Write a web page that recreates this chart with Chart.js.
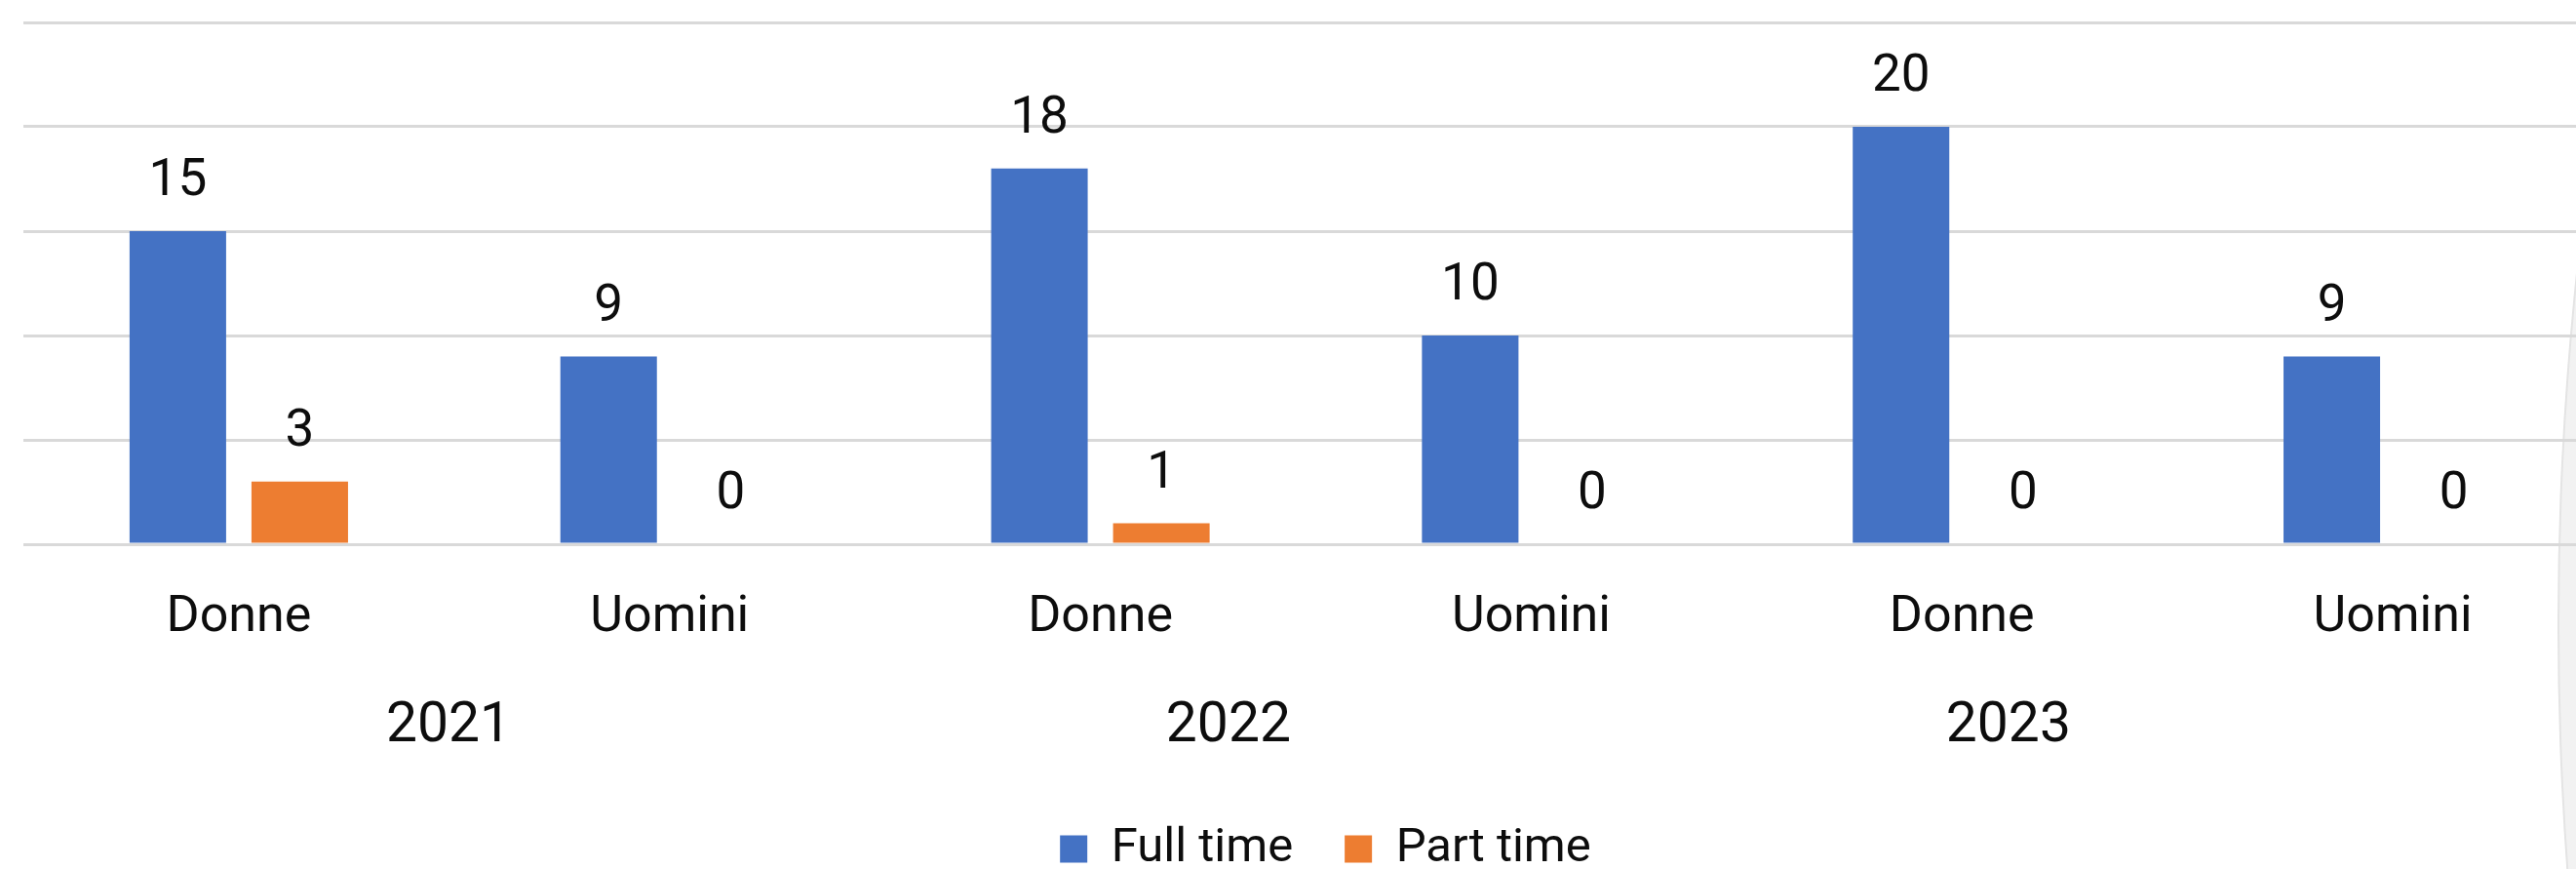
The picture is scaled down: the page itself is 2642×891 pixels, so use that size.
<!DOCTYPE html>
<html>
<head>
<meta charset="utf-8">
<script src="https://cdn.jsdelivr.net/npm/chart.js@4.4.1/dist/chart.umd.min.js"></script>
<style>
  html, body { margin: 0; padding: 0; background: #ffffff; overflow: hidden; width: 2642px; height: 891px; }
  #shade { position: absolute; left: 2623px; top: -2780px; width: 6840px; height: 6840px; border-radius: 50%;
           background: #f2f2f2; border-left: 2px solid #e4e4e4; box-sizing: border-box; z-index: 0; }
  #wrap { position: absolute; left: 0; top: 0; width: 2720px; height: 905px; z-index: 1; }
  canvas { display: block; }
</style>
</head>
<body>
<div id="shade"></div>
<div id="wrap"><canvas id="c" width="2720" height="905"></canvas></div>
<script>
// ---- data ----
const categories = ['Donne', 'Uomini', 'Donne', 'Uomini', 'Donne', 'Uomini'];
const years = ['2021', '2022', '2023'];
const seriesNames = ['Full time', 'Part time'];
const fullTime = [15, 9, 18, 10, 20, 9];
const partTime = [3, 0, 1, 0, 0, 0];
const yMax = 25;
const yStep = 5;

// ---- styles ----
const BLUE = '#4472C4';
const ORANGE = '#ED7D31';
const GRID = '#d9d9d9';
const TEXT = '#0d0d0d';
const ROBOTO = 'Roboto, "Liberation Sans", sans-serif';

function hasFont(name) {
  const c = document.createElement('canvas').getContext('2d');
  c.font = '100px monospace';
  const a = c.measureText('2021 Donne').width;
  c.font = '100px "' + name + '", monospace';
  return Math.abs(c.measureText('2021 Donne').width - a) > 0.5;
}

function build() {
  const narrowOK = hasFont('Liberation Sans Narrow');
  const DIGITS = narrowOK ? '"Liberation Sans Narrow", ' + ROBOTO : ROBOTO;
  const yearSize = narrowOK ? 59 : 57;
  const valSize = narrowOK ? 54 : 53;

  const valueLabels = {
    id: 'valueLabels',
    afterDatasetsDraw(chart) {
      const ctx = chart.ctx;
      ctx.save();
      ctx.font = valSize + 'px ' + DIGITS;
      ctx.fillStyle = TEXT;
      ctx.textAlign = 'center';
      ctx.textBaseline = 'middle';
      chart.data.datasets.forEach((ds, di) => {
        const meta = chart.getDatasetMeta(di);
        meta.data.forEach((bar, i) => {
          ctx.fillText(String(ds.data[i]), bar.x, bar.y - 50);
        });
      });
      ctx.restore();
    }
  };

  new Chart(document.getElementById('c'), {
    type: 'bar',
    data: {
      labels: categories,
      datasets: [
        { label: seriesNames[0], data: fullTime, backgroundColor: BLUE, borderWidth: 0,
          categoryPercentage: 0.566, barPercentage: 0.792 },
        { label: seriesNames[1], data: partTime, backgroundColor: ORANGE, borderWidth: 0,
          categoryPercentage: 0.566, barPercentage: 0.792 }
      ]
    },
    options: {
      responsive: false,
      animation: false,
      devicePixelRatio: 1,
      layout: { padding: { top: 23, left: 24, right: 25, bottom: 0 } },
      plugins: {
        tooltip: { enabled: false },
        legend: {
          position: 'bottom',
          labels: {
            boxWidth: 28,
            boxHeight: 28,
            padding: 53,
            color: TEXT,
            font: { family: ROBOTO, size: 49 }
          }
        }
      },
      scales: {
        x: {
          type: 'category',
          grid: { display: false, drawTicks: false },
          border: { display: false },
          ticks: {
            color: TEXT,
            padding: 45,
            font: { family: ROBOTO, size: 52, lineHeight: 1.2 }
          }
        },
        x2: {
          type: 'linear',
          position: 'bottom',
          offset: false,
          bounds: 'data',
          min: -0.545,
          max: 2.769,
          grid: { display: false, drawTicks: false, offset: false },
          border: { display: false },
          afterBuildTicks(axis) { axis.ticks = years.map((y, i) => ({ value: i })); },
          ticks: {
            color: TEXT,
            padding: 0,
            autoSkip: false,
            maxRotation: 0,
            callback: (v) => years[v],
            font: { family: DIGITS, size: yearSize, lineHeight: (70 / yearSize) }
          },
          afterFit(axis) { axis.height = 82.6; }
        },
        y: {
          position: 'right',
          min: 0,
          max: yMax,
          ticks: { display: false, stepSize: yStep },
          grid: { color: GRID, lineWidth: 3, drawTicks: false },
          border: { display: false },
          afterFit(axis) { axis.width = 20; }
        }
      }
    },
    plugins: [valueLabels]
  });
}

if (document.fonts && document.fonts.load) {
  Promise.all([
    document.fonts.load('54px "Liberation Sans Narrow"'),
    document.fonts.load('52px Roboto')
  ]).then(build, build);
} else {
  build();
}
</script>
</body>
</html>
